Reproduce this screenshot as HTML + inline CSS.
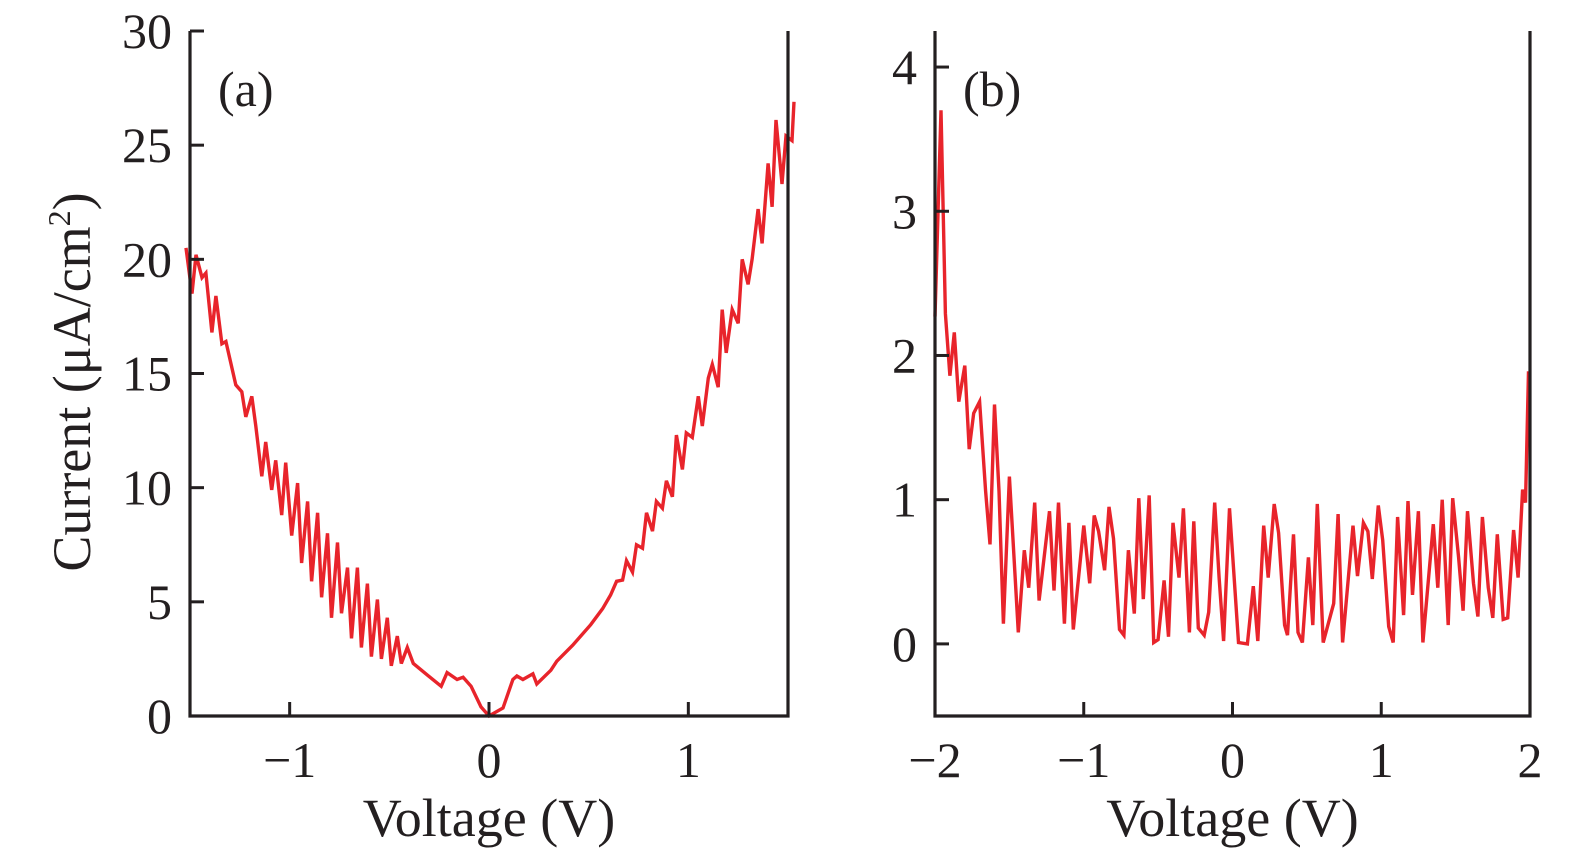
<!DOCTYPE html>
<html><head><meta charset="utf-8"><style>
body{margin:0;background:#fff}
svg{display:block}
text{font-family:"Liberation Serif",serif;fill:#231f20}
</style></head><body>
<svg id="chart" width="1575" height="856" viewBox="0 0 1575 856"></svg>
<script>
// Panel (a) data
const aVolt=[-1.52,-1.49,-1.47,-1.44,-1.42,-1.39,-1.37,-1.34,-1.32,-1.27,-1.24,-1.22,-1.19,-1.17,-1.14,-1.12,-1.09,-1.07,-1.04,-1.02,-0.99,-0.96,-0.94,-0.91,-0.89,-0.86,-0.84,-0.81,-0.79,-0.76,-0.74,-0.71,-0.69,-0.66,-0.64,-0.61,-0.59,-0.56,-0.54,-0.51,-0.49,-0.46,-0.44,-0.41,-0.38,-0.31,-0.24,-0.21,-0.16,-0.13,-0.09,-0.04,0.0,0.07,0.12,0.14,0.17,0.22,0.24,0.31,0.34,0.42,0.51,0.57,0.61,0.64,0.67,0.69,0.72,0.74,0.77,0.79,0.82,0.84,0.87,0.89,0.92,0.94,0.97,0.99,1.02,1.05,1.07,1.10,1.12,1.15,1.17,1.19,1.22,1.25,1.27,1.30,1.32,1.35,1.37,1.40,1.42,1.44,1.47,1.49,1.52,1.53];
const aCurr=[20.5,18.5,20.2,19.2,19.4,16.8,18.4,16.3,16.4,14.5,14.2,13.1,14.0,12.7,10.5,12.0,9.9,11.2,8.8,11.1,7.9,10.2,6.7,9.4,5.9,8.9,5.2,8.0,4.3,7.6,4.5,6.5,3.4,6.5,3.0,5.8,2.6,5.1,2.5,4.3,2.2,3.5,2.3,3.0,2.3,1.8,1.3,1.9,1.6,1.7,1.3,0.4,0.0,0.35,1.6,1.75,1.6,1.85,1.4,2.0,2.4,3.1,4.0,4.7,5.3,5.9,5.95,6.8,6.3,7.5,7.35,8.9,8.1,9.4,9.1,10.3,9.6,12.3,10.8,12.4,12.2,14.0,12.7,14.8,15.4,14.4,17.8,15.9,17.8,17.2,20.0,18.9,20.0,22.2,20.7,24.2,22.3,26.1,23.3,25.4,25.2,26.9];
const aXTicks=[-1,0,1], aXLabels=["−1","0","1"];
const aYTicks=[0,5,10,15,20,25,30], aYLabels=["0","5","10","15","20","25","30"];
// Panel (b) data
const bVolt=[-2.0,-1.96,-1.93,-1.90,-1.87,-1.84,-1.80,-1.77,-1.74,-1.70,-1.66,-1.63,-1.60,-1.57,-1.54,-1.50,-1.44,-1.40,-1.37,-1.33,-1.30,-1.23,-1.20,-1.17,-1.13,-1.10,-1.07,-1.0,-0.96,-0.93,-0.90,-0.86,-0.83,-0.80,-0.76,-0.73,-0.70,-0.66,-0.63,-0.60,-0.56,-0.53,-0.50,-0.46,-0.43,-0.40,-0.36,-0.33,-0.29,-0.26,-0.23,-0.19,-0.16,-0.12,-0.09,-0.06,-0.02,0.04,0.10,0.14,0.17,0.21,0.24,0.28,0.31,0.35,0.37,0.41,0.44,0.47,0.51,0.54,0.57,0.61,0.68,0.71,0.74,0.81,0.84,0.88,0.91,0.94,0.98,1.01,1.05,1.08,1.11,1.15,1.18,1.21,1.25,1.28,1.35,1.38,1.41,1.45,1.48,1.52,1.55,1.58,1.62,1.65,1.68,1.72,1.75,1.78,1.82,1.85,1.89,1.92,1.95,1.97,1.99,2.0];
const bCurr=[2.27,3.7,2.29,1.86,2.16,1.68,1.93,1.35,1.60,1.68,1.06,0.69,1.66,1.06,0.14,1.16,0.08,0.65,0.39,0.98,0.30,0.92,0.37,0.98,0.14,0.84,0.10,0.82,0.42,0.89,0.78,0.51,0.95,0.73,0.10,0.06,0.65,0.21,1.01,0.31,1.03,0.01,0.03,0.44,0.05,0.84,0.46,0.94,0.08,0.85,0.11,0.06,0.22,0.98,0.46,0.02,0.94,0.01,0.0,0.40,0.02,0.82,0.46,0.97,0.77,0.13,0.06,0.76,0.08,0.01,0.60,0.13,0.97,0.01,0.28,0.90,0.01,0.82,0.47,0.84,0.78,0.45,0.96,0.72,0.12,0.01,0.88,0.20,0.99,0.34,0.92,0.01,0.83,0.39,1.0,0.13,1.01,0.60,0.23,0.92,0.42,0.19,0.88,0.39,0.18,0.76,0.17,0.18,0.79,0.46,1.07,0.98,1.89];
const bXTicks=[-2,-1,0,1,2], bXLabels=["−2","−1","0","1","2"];
const bYTicks=[0,1,2,3,4], bYLabels=["0","1","2","3","4"];

const NS="http://www.w3.org/2000/svg";
const svg=document.getElementById('chart');
function mk(tag,attrs,parent){const e=document.createElementNS(NS,tag);for(const k in attrs)e.setAttribute(k,attrs[k]);(parent||svg).appendChild(e);return e;}

function panel(cfg){
  const g=mk('g',{});
  
  
  const xs=v=>cfg.x0+(v-cfg.xmin)/(cfg.xmax-cfg.xmin)*(cfg.x1-cfg.x0);
  const ys=v=>cfg.y0-(v-cfg.ymin)/(cfg.ymax-cfg.ymin)*(cfg.y0-cfg.y1);
  let d='';
  cfg.xv.forEach((v,i)=>{d+=(i?'L':'M')+xs(v).toFixed(1)+','+ys(cfg.yv[i]).toFixed(1);});
  const line=mk('path',{d:d,fill:'none',stroke:'#e8242b','stroke-width':3.4,'stroke-linejoin':'miter'},g);
  
  
  const ax=mk('path',{d:`M${cfg.x0},${cfg.y1}V${cfg.y0}H${cfg.x1}V${cfg.y1}`,fill:'none',stroke:'#231f20','stroke-width':3.2},g);
  
  
  cfg.xt.forEach((t,i)=>{
    const x=xs(t);
    const tk=mk('line',{x1:x,x2:x,y1:cfg.y0,y2:cfg.y0-14,stroke:'#231f20','stroke-width':3},g);
    
    
    const tl=mk('text',{x:x,y:cfg.y0+61,'text-anchor':'middle','font-size':50},g);
    tl.textContent=cfg.xl[i];
    
    
  });
  cfg.yt.forEach((t,i)=>{
    const y=ys(t);
    const tk=mk('line',{x1:cfg.x0,x2:cfg.x0+14,y1:y,y2:y,stroke:'#231f20','stroke-width':3},g);
    
    
    const tl=mk('text',{x:cfg.x0-18,y:y+17,'text-anchor':'end','font-size':50},g);
    tl.textContent=cfg.yl[i];
    
    
  });
  const xt=mk('text',{x:(cfg.x0+cfg.x1)/2,y:836,'text-anchor':'middle','font-size':54},g);
  xt.textContent='Voltage (V)';
  
  
  const lab=mk('text',{x:cfg.x0+28,y:106,'font-size':50},g);
  lab.textContent=cfg.label;
  
  
}
panel({name:'panel-a',x0:190,x1:788,y0:716,y1:31,xmin:-1.5,xmax:1.5,ymin:0,ymax:30,xv:aVolt,yv:aCurr,xt:aXTicks,xl:aXLabels,yt:aYTicks,yl:aYLabels,label:'(a)'});
panel({name:'panel-b',x0:935,x1:1530,y0:716,y1:31,xmin:-2,xmax:2,ymin:-0.5,ymax:4.25,xv:bVolt,yv:bCurr,xt:bXTicks,xl:bXLabels,yt:bYTicks,yl:bYLabels,label:'(b)'});
const yt=mk('text',{x:0,y:0,'text-anchor':'middle','font-size':54,transform:'translate(90,382) rotate(-90)'});
yt.innerHTML='Current (μA/cm<tspan dy="-20" font-size="32">2</tspan><tspan dy="20">)</tspan>';


</script>
</body></html>
